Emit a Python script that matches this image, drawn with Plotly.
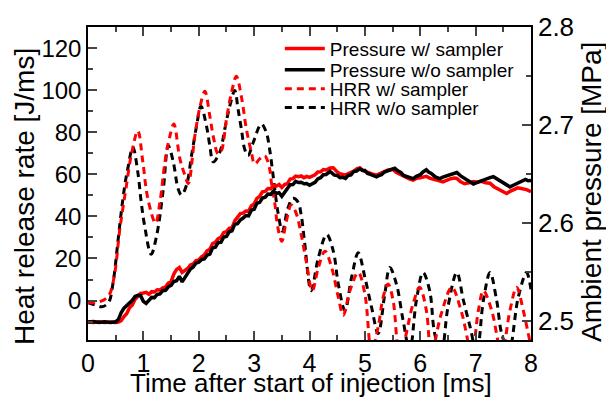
import plotly.graph_objects as go

# ---- Heat release rate (left axis, J/ms) ----
hrr_wo_t = [0.0, 0.12, 0.25, 0.37, 0.45, 0.54, 0.6, 0.66, 0.72, 0.81, 0.9, 0.96, 1.02, 1.14, 1.24, 1.36,
            1.45, 1.54, 1.63, 1.69, 1.78, 1.87, 1.96, 2.04, 2.14, 2.2, 2.26, 2.38, 2.47, 2.56, 2.65,
            2.71, 2.77, 2.83, 2.89, 2.98, 3.13, 3.22, 3.28, 3.35, 3.43, 3.51, 3.61, 3.7, 3.79, 3.85,
            3.91, 4.03, 4.16, 4.31, 4.43, 4.52, 4.64, 4.76, 4.88, 5.0, 5.12, 5.24, 5.36, 5.45, 5.57,
            5.69, 5.81, 5.93, 6.05, 6.17, 6.26, 6.38, 6.5, 6.66, 6.78, 6.9, 7.02, 7.14, 7.26, 7.38,
            7.47, 7.6, 7.77, 7.92, 8.0]
hrr_wo_v = [-1.0, -2.0, -3.0, -1.0, 8.0, 28.0, 42.0, 54.0, 63.0, 73.0, 61.0, 47.0, 36.0, 22.0, 31.0, 53.0,
            73.7, 66.0, 53.0, 50.2, 55.0, 69.0, 83.0, 92.5, 83.0, 73.7, 66.0, 70.6, 81.6, 92.5, 100.0,
            91.0, 81.6, 72.0, 69.0, 75.0, 84.0, 80.0, 72.0, 58.0, 42.0, 33.0, 44.0, 48.6, 47.0, 40.8,
            28.0, 4.7, 20.4, 31.4, 23.5, 7.8, -4.7, 11.0, 22.7, 11.0, -3.1, -15.7, 3.1, 15.7, 7.8,
            -9.4, -24.0, 0.0, 13.3, 4.7, -15.7, -25.0, -3.1, 13.3, 0.0, -12.5, -25.0, 0.0, 13.3, 0.0,
            -15.7, -24.0, 1.6, 13.3, 5.0]

hrr_w_t = [0.0, 0.15, 0.3, 0.39, 0.48, 0.57, 0.63, 0.69, 0.78, 0.9, 0.99, 1.08, 1.22, 1.3, 1.39, 1.48,
           1.55, 1.66, 1.75, 1.81, 1.93, 2.02, 2.11, 2.2, 2.26, 2.35, 2.41, 2.5, 2.59, 2.68, 2.77,
           2.86, 2.95, 3.01, 3.1, 3.19, 3.28, 3.31, 3.37, 3.43, 3.5, 3.58, 3.67, 3.76, 3.85, 3.94,
           4.05, 4.16, 4.28, 4.4, 4.52, 4.61, 4.73, 4.88, 5.0, 5.12, 5.24, 5.33, 5.42, 5.51, 5.63,
           5.87, 5.99, 6.11, 6.2, 6.38, 6.57, 6.75, 6.93, 7.05, 7.14, 7.29, 7.47, 7.62, 7.74, 7.86,
           7.95, 8.0]
hrr_w_v = [-1.0, -1.0, 0.5, 3.0, 12.5, 33.0, 44.0, 54.0, 69.0, 80.8, 66.0, 48.6, 36.8, 47.0, 66.0, 78.4,
           84.0, 67.4, 59.6, 55.7, 78.4, 92.0, 99.6, 87.8, 78.4, 69.8, 71.4, 86.3, 98.8, 106.7, 97.0,
           81.6, 70.6, 65.0, 67.4, 69.0, 62.7, 56.5, 47.0, 34.5, 28.2, 37.6, 45.5, 41.5, 31.4, 18.8,
           4.7, 15.7, 23.5, 15.7, 1.6, -7.0, 4.7, 13.3, 3.1, -24.0, -12.5, 1.6, 7.8, 0.0, -26.0,
           -1.6, 6.3, -4.7, -25.0, -6.3, 6.3, -6.0, -25.0, -4.7, 4.7, -4.7, -25.0, -4.7, 6.3, -4.7,
           -15.7, -22.0]

# ---- Ambient pressure (right axis, MPa) ----
p_wo_t = [0.0, 0.1, 0.2, 0.3, 0.4, 0.5, 0.55, 0.6, 0.65, 0.7, 0.75, 0.8, 0.85, 0.9, 0.95, 1.0, 1.05,
          1.1, 1.15, 1.2, 1.25, 1.3, 1.35, 1.4, 1.45, 1.5, 1.55, 1.6, 1.65, 1.7, 1.75, 1.8, 1.85, 1.9,
          1.95, 2.0, 2.05, 2.1, 2.15, 2.2, 2.25, 2.3, 2.35, 2.4, 2.45, 2.5, 2.55, 2.6, 2.65, 2.7,
          2.75, 2.8, 2.85, 2.9, 2.95, 3.0, 3.05, 3.1, 3.15, 3.2, 3.25, 3.3, 3.35, 3.4, 3.45, 3.5,
          3.55, 3.6, 3.65, 3.7, 3.75, 3.8, 3.85, 3.9, 3.95, 4.0, 4.05, 4.1, 4.15, 4.2, 4.25, 4.3,
          4.37, 4.45, 4.5, 4.55, 4.6, 4.65, 4.7, 4.75, 4.8, 4.85, 4.91, 4.95, 5.0, 5.05, 5.1, 5.15,
          5.21, 5.25, 5.3, 5.35, 5.4, 5.47, 5.54, 5.6, 5.65, 5.7, 5.75, 5.8, 5.87, 5.93, 6.0, 6.05,
          6.11, 6.15, 6.2, 6.27, 6.35, 6.42, 6.5, 6.58, 6.66, 6.73, 6.8, 6.88, 6.96, 7.03, 7.1, 7.2,
          7.26, 7.32, 7.38, 7.45, 7.5, 7.56, 7.62, 7.68, 7.75, 7.82, 7.9, 7.95, 8.0]
p_wo_v = [2.4988, 2.4993, 2.4983, 2.4990, 2.4984, 2.4991, 2.5015, 2.5085, 2.5130, 2.5155, 2.5190,
          2.5210, 2.5250, 2.5262, 2.5258, 2.5200, 2.5178, 2.5205, 2.5240, 2.5238, 2.5270, 2.5275,
          2.5308, 2.5312, 2.5348, 2.5362, 2.5402, 2.5410, 2.5455, 2.5398, 2.5448, 2.5490, 2.5530,
          2.5550, 2.5590, 2.5600, 2.5625, 2.5632, 2.5670, 2.5682, 2.5745, 2.5752, 2.5800, 2.5802,
          2.5855, 2.5862, 2.5910, 2.5920, 2.5985, 2.5992, 2.6030, 2.6050, 2.6075, 2.6072, 2.6130,
          2.6140, 2.6200, 2.6210, 2.6255, 2.6262, 2.6295, 2.6292, 2.6325, 2.6302, 2.6308, 2.6272,
          2.6315, 2.6342, 2.6390, 2.6392, 2.6425, 2.6412, 2.6415, 2.6400, 2.6402, 2.6385, 2.6405,
          2.6415, 2.6450, 2.6462, 2.6492, 2.6495, 2.6525, 2.6488, 2.6485, 2.6462, 2.6465, 2.6455,
          2.6485, 2.6490, 2.6525, 2.6530, 2.6555, 2.6538, 2.6535, 2.6505, 2.6495, 2.6480, 2.6470,
          2.6482, 2.6492, 2.6520, 2.6528, 2.6545, 2.6558, 2.6530, 2.6515, 2.6485, 2.6475, 2.6462,
          2.6452, 2.6475, 2.6492, 2.6520, 2.6542, 2.6520, 2.6505, 2.6470, 2.6452, 2.6470, 2.6482,
          2.6495, 2.6515, 2.6480, 2.6452, 2.6420, 2.6398, 2.6415, 2.6432, 2.6448, 2.6462, 2.6472,
          2.6450, 2.6420, 2.6405, 2.6385, 2.6368, 2.6385, 2.6402, 2.6420, 2.6445, 2.6430, 2.6432]

p_w_t = [0.0, 0.1, 0.2, 0.3, 0.4, 0.5, 0.55, 0.6, 0.65, 0.7, 0.75, 0.8, 0.85, 0.9, 0.95, 1.0, 1.05,
         1.1, 1.15, 1.2, 1.25, 1.3, 1.35, 1.4, 1.45, 1.5, 1.55, 1.6, 1.65, 1.7, 1.75, 1.8, 1.85, 1.9,
         1.95, 2.0, 2.05, 2.1, 2.15, 2.2, 2.25, 2.3, 2.35, 2.4, 2.45, 2.5, 2.55, 2.6, 2.65, 2.7,
         2.75, 2.8, 2.85, 2.9, 2.95, 3.0, 3.05, 3.1, 3.15, 3.2, 3.25, 3.3, 3.35, 3.4, 3.45, 3.5,
         3.55, 3.6, 3.65, 3.7, 3.75, 3.8, 3.85, 3.9, 3.95, 4.0, 4.05, 4.1, 4.15, 4.2, 4.25, 4.3,
         4.37, 4.43, 4.5, 4.55, 4.6, 4.65, 4.72, 4.8, 4.86, 4.91, 4.98, 5.05, 5.13, 5.21, 5.28, 5.35,
         5.42, 5.5, 5.57, 5.65, 5.72, 5.8, 5.87, 5.93, 6.0, 6.05, 6.11, 6.18, 6.25, 6.33, 6.41, 6.48,
         6.55, 6.62, 6.66, 6.73, 6.8, 6.88, 6.96, 7.03, 7.1, 7.18, 7.26, 7.33, 7.4, 7.47, 7.56, 7.63,
         7.7, 7.76, 7.8, 7.86, 7.92, 8.0]
p_w_v = [2.4990, 2.4985, 2.4991, 2.4984, 2.4989, 2.4983, 2.4989, 2.5002, 2.5045, 2.5075, 2.5135,
         2.5162, 2.5220, 2.5245, 2.5280, 2.5285, 2.5292, 2.5272, 2.5298, 2.5295, 2.5318, 2.5315,
         2.5338, 2.5345, 2.5385, 2.5400, 2.5478, 2.5525, 2.5545, 2.5495, 2.5518, 2.5535, 2.5572,
         2.5582, 2.5615, 2.5622, 2.5655, 2.5672, 2.5715, 2.5732, 2.5790, 2.5802, 2.5840, 2.5852,
         2.5900, 2.5912, 2.5945, 2.5950, 2.6020, 2.6052, 2.6095, 2.6100, 2.6122, 2.6120, 2.6175,
         2.6192, 2.6250, 2.6272, 2.6318, 2.6322, 2.6352, 2.6350, 2.6382, 2.6375, 2.6392, 2.6362,
         2.6392, 2.6402, 2.6448, 2.6452, 2.6478, 2.6472, 2.6480, 2.6462, 2.6475, 2.6465, 2.6482,
         2.6492, 2.6520, 2.6522, 2.6545, 2.6540, 2.6560, 2.6562, 2.6520, 2.6502, 2.6495, 2.6488,
         2.6510, 2.6528, 2.6555, 2.6562, 2.6530, 2.6512, 2.6500, 2.6488, 2.6505, 2.6522, 2.6540,
         2.6548, 2.6515, 2.6492, 2.6470, 2.6450, 2.6438, 2.6455, 2.6462, 2.6470, 2.6475, 2.6455,
         2.6440, 2.6432, 2.6418, 2.6440, 2.6452, 2.6458, 2.6455, 2.6420, 2.6400, 2.6410, 2.6422,
         2.6415, 2.6425, 2.6410, 2.6405, 2.6370, 2.6350, 2.6325, 2.6300, 2.6325, 2.6340, 2.6358,
         2.6354, 2.6345, 2.6340, 2.6318]

x_ticks = [0, 1, 2, 3, 4, 5, 6, 7, 8]
y_ticks = [0, 20, 40, 60, 80, 100, 120]
y2_ticks = [2.5, 2.6, 2.7, 2.8]
y2_labels = ["2.5", "2.6", "2.7", "2.8"]

names = ["Pressure w/ sampler", "Pressure w/o sampler", "HRR w/ sampler", "HRR w/o sampler"]

FONT = "Liberation Sans, Arial, sans-serif"
RED = "#ff0000"
BLACK = "#000000"
DASH = "7px,5px"

fig = go.Figure()
fig.add_trace(go.Scatter(x=hrr_wo_t, y=hrr_wo_v, mode="lines", name=names[3], yaxis="y",
                         line=dict(color=BLACK, width=3, dash=DASH, shape="spline", smoothing=1.0),
                         legend="legend4"))
fig.add_trace(go.Scatter(x=hrr_w_t, y=hrr_w_v, mode="lines", name=names[2], yaxis="y",
                         line=dict(color=RED, width=3, dash=DASH, shape="spline", smoothing=1.0),
                         legend="legend3"))
fig.add_trace(go.Scatter(x=p_w_t, y=p_w_v, mode="lines", name=names[0], yaxis="y2",
                         line=dict(color=RED, width=3.5), legend="legend"))
fig.add_trace(go.Scatter(x=p_wo_t, y=p_wo_v, mode="lines", name=names[1], yaxis="y2",
                         line=dict(color=BLACK, width=3.5), legend="legend2"))

leg_common = dict(xanchor="left", yanchor="middle", bgcolor="rgba(0,0,0,0)",
                  font=dict(family=FONT, size=19, color="black"), borderwidth=0, itemwidth=40)
rows = [0.931, 0.863, 0.802, 0.742]
legx = 0.433

fig.update_layout(
    width=606, height=397,
    margin=dict(l=88, r=75, t=23, b=57),
    paper_bgcolor="white", plot_bgcolor="white",
    font=dict(family=FONT, size=24, color="black"),
    showlegend=True,
    legend=dict(x=legx, y=rows[0], **leg_common),
    legend2=dict(x=legx, y=rows[1], **leg_common),
    legend3=dict(x=legx, y=rows[2], **leg_common),
    legend4=dict(x=legx, y=rows[3], **leg_common),
    xaxis=dict(range=[0, 8], tickvals=x_ticks, ticks="inside", ticklen=9, tickwidth=1.5,
               showline=True, linecolor="black", linewidth=1.5, mirror="ticks",
               showgrid=False, zeroline=False, tickfont=dict(size=25),
               minor=dict(ticks="inside", ticklen=5, tickwidth=1.5, dtick=0.5, tick0=0, showgrid=False)),
    yaxis=dict(range=[-18.8, 130.2], tickvals=y_ticks, ticks="inside", ticklen=9, tickwidth=1.5,
               showline=True, linecolor="black", linewidth=1.5, showgrid=False, zeroline=False,
               tickfont=dict(size=24),
               minor=dict(ticks="inside", ticklen=5, tickwidth=1.5, dtick=10, tick0=0, showgrid=False)),
    yaxis2=dict(range=[2.4805, 2.8], overlaying="y", side="right", tickvals=y2_ticks,
                ticktext=y2_labels, ticks="inside", ticklen=9, tickwidth=1.5,
                showline=True, linecolor="black", linewidth=1.5, showgrid=False, zeroline=False,
                tickfont=dict(size=26),
                minor=dict(ticks="inside", ticklen=5, tickwidth=1.5, dtick=0.05, tick0=2.5, showgrid=False)),
    annotations=[
        dict(text="Time after start of injection [ms]", xref="paper", yref="paper",
             x=0.503, y=-0.137, xanchor="center", yanchor="middle", showarrow=False,
             font=dict(size=26)),
        dict(text="Heat release rate [J/ms]", xref="paper", yref="paper",
             x=-0.142, y=0.457, xanchor="center", yanchor="middle", textangle=-90,
             showarrow=False, font=dict(size=28)),
        dict(text="Ambient pressure [MPa]", xref="paper", yref="paper",
             x=1.1377, y=0.473, xanchor="center", yanchor="middle", textangle=-90,
             showarrow=False, font=dict(size=28)),
    ],
)

fig.write_html("out.html", config={"displayModeBar": False},
               post_script="document.body.style.margin='0';")
